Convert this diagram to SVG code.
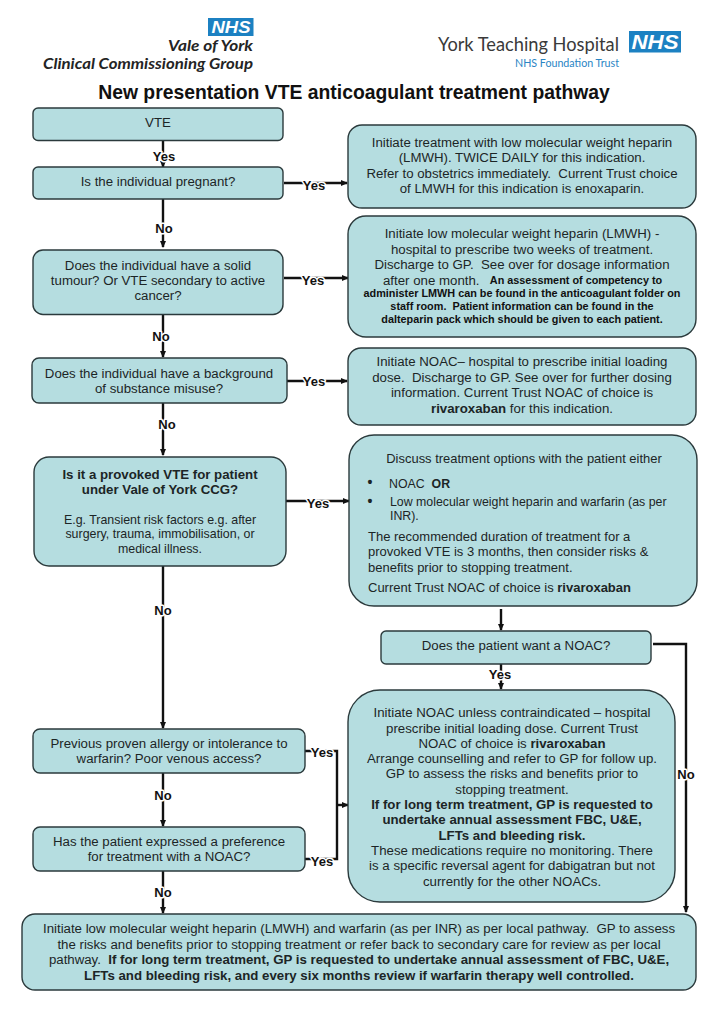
<svg xmlns="http://www.w3.org/2000/svg" width="720" height="1019" viewBox="0 0 720 1019">
<style>
text{font-family:"Liberation Sans",Arial,sans-serif;fill:#1c2526;text-anchor:middle;font-size:13.25px;white-space:pre}
.n{fill:#b5dde0;stroke:#2b3a3c;stroke-width:1.4}
.b{font-weight:bold}
.f{font-size:10.85px;font-weight:bold;fill:#111}
.c{fill:none;stroke:#111;stroke-width:2.4}
.l{font-size:13px;font-weight:bold;fill:#111;paint-order:stroke;stroke:#fff;stroke-width:3px;stroke-linejoin:round}
.logo{font-family:Lato,"Liberation Sans",sans-serif;fill:#242424;font-weight:bold;font-style:italic;text-anchor:start;font-size:15px}
.york{font-family:Lato,"Liberation Sans",sans-serif;text-anchor:start}
.blue{fill:#1c81c2}
.w{fill:#fff;font-weight:bold;font-style:italic}
.st{text-anchor:start}
</style>
<defs><marker id="a" markerWidth="7" markerHeight="6" refX="6" refY="3" orient="auto" markerUnits="userSpaceOnUse" viewBox="0 0 7 6"><path d="M0 0L7 3L0 6z" fill="#111"/></marker></defs>
<g id="logo-ccg">
<rect class="blue" x="208" y="18" width="45.500" height="18"/>
<text class="w" x="231" y="33" style="font-size:16px" textLength="39" lengthAdjust="spacingAndGlyphs">NHS</text>
<text class="logo" x="168" y="51" style="font-size:16px" textLength="85" lengthAdjust="spacingAndGlyphs">Vale of York</text>
<text class="logo" x="43" y="69" style="font-size:16px" textLength="210" lengthAdjust="spacingAndGlyphs">Clinical Commissioning Group</text>
</g>
<g id="logo-york">
<rect class="blue" x="629" y="31" width="52" height="21.500"/>
<text class="w" x="655" y="49" style="font-size:20px" textLength="47" lengthAdjust="spacingAndGlyphs">NHS</text>
<text class="york" x="438" y="51" style="font-size:19.500px;fill:#3a3a3a" textLength="181" lengthAdjust="spacingAndGlyphs">York Teaching Hospital</text>
<text class="york" x="515" y="67" style="font-size:11px;fill:#2a85c4" textLength="104" lengthAdjust="spacingAndGlyphs">NHS Foundation Trust</text>
</g>
<text id="title" x="354" y="99" style="font-size:19.350px;fill:#111" class="b">New presentation VTE anticoagulant treatment pathway</text>
<g id="connectors">
<path class="c" d="M163 140V167" marker-end="url(#a)"/>
<path class="c" d="M163 199V247" marker-end="url(#a)"/>
<path class="c" d="M163 315V357" marker-end="url(#a)"/>
<path class="c" d="M163 403V455" marker-end="url(#a)"/>
<path class="c" d="M163 566V728" marker-end="url(#a)"/>
<path class="c" d="M163 773V826" marker-end="url(#a)"/>
<path class="c" d="M163 871V913" marker-end="url(#a)"/>
<path class="c" d="M284 183H347" marker-end="url(#a)"/>
<path class="c" d="M284 278H348" marker-end="url(#a)"/>
<path class="c" d="M287 381H347" marker-end="url(#a)"/>
<path class="c" d="M286 501H349" marker-end="url(#a)"/>
<path class="c" d="M501 609V630" marker-end="url(#a)"/>
<path class="c" d="M501 664V689" marker-end="url(#a)"/>
<path class="c" d="M653 644H686V912" marker-end="url(#a)"/>
<path class="c" d="M305 751H337V859H305"/>
<path class="c" d="M337 805H348" marker-end="url(#a)"/>
</g>
<g id="n-vte"><rect class="n" x="33" y="108" width="250" height="32.500" rx="5"/><text x="158" y="127">VTE</text></g>
<g id="n-pregnant"><rect class="n" x="33" y="167" width="250" height="32" rx="5"/><text x="158" y="186">Is the individual pregnant?</text></g>
<g id="n-tumour"><rect class="n" x="33" y="250" width="250" height="64.500" rx="10"/><text><tspan x="158" y="270">Does the individual have a solid</tspan><tspan x="158" y="285">tumour? Or VTE secondary to active</tspan><tspan x="158" y="300">cancer?</tspan></text></g>
<g id="n-substance"><rect class="n" x="32" y="358" width="255" height="45" rx="7"/><text><tspan x="159" y="378">Does the individual have a background</tspan><tspan x="159" y="393">of substance misuse?</tspan></text></g>
<g id="n-provoked"><rect class="n" x="34" y="457" width="252" height="109" rx="15"/><text class="b"><tspan x="160" y="479">Is it a provoked VTE for patient</tspan><tspan x="160" y="494">under Vale of York CCG?</tspan></text><text style="font-size:12.400px"><tspan x="160" y="524">E.g. Transient risk factors e.g. after</tspan><tspan x="160" y="538">surgery, trauma, immobilisation, or</tspan><tspan x="160" y="553">medical illness.</tspan></text></g>
<g id="n-allergy"><rect class="n" x="33" y="729" width="272" height="44" rx="7"/><text><tspan x="169" y="748">Previous proven allergy or intolerance to</tspan><tspan x="169" y="763">warfarin? Poor venous access?</tspan></text></g>
<g id="n-preference"><rect class="n" x="33" y="827" width="272" height="44" rx="7"/><text><tspan x="169" y="846">Has the patient expressed a preference</tspan><tspan x="169" y="861">for treatment with a NOAC?</tspan></text></g>
<g id="n-obstetrics"><rect class="n" x="348" y="125" width="348" height="83" rx="14"/><text><tspan x="522" y="147">Initiate treatment with low molecular weight heparin</tspan><tspan x="522" y="162">(LMWH). TWICE DAILY for this indication.</tspan><tspan x="522" y="178">Refer to obstetrics immediately.  Current Trust choice</tspan><tspan x="522" y="193">of LMWH for this indication is enoxaparin.</tspan></text></g>
<g id="n-lmwh"><rect class="n" x="348" y="216" width="348" height="121" rx="18"/><text><tspan x="522" y="238">Initiate low molecular weight heparin (LMWH) -</tspan><tspan x="522" y="254">hospital to prescribe two weeks of treatment.</tspan><tspan x="522" y="269">Discharge to GP.  See over for dosage information</tspan></text><text class="st" x="383" y="284.500">after one month.</text><text class="f" x="576" y="284">An assessment of competency to</text><text class="f"><tspan x="522" y="297">administer LMWH can be found in the anticoagulant folder on</tspan><tspan x="522" y="310">staff room.  Patient information can be found in the</tspan><tspan x="522" y="323">dalteparin pack which should be given to each patient.</tspan></text></g>
<g id="n-noac1"><rect class="n" x="348" y="348" width="348" height="77" rx="13"/><text><tspan x="522" y="366">Initiate NOAC– hospital to prescribe initial loading</tspan><tspan x="522" y="382">dose.  Discharge to GP. See over for further dosing</tspan><tspan x="522" y="397">information. Current Trust NOAC of choice is</tspan><tspan x="522" y="413"><tspan class="b">rivaroxaban</tspan> for this indication.</tspan></text></g>
<g id="n-discuss"><rect class="n" x="349" y="435" width="348" height="171" rx="25"/><text x="524" y="463" style="font-size:12.950px">Discuss treatment options with the patient either</text><text x="370" y="487" class="b" style="font-size:14px">•</text><text x="370" y="506" class="b" style="font-size:14px">•</text><text class="st" style="font-size:12.350px"><tspan x="389" y="488">NOAC  <tspan class="b">OR</tspan></tspan><tspan x="390" y="506">Low molecular weight heparin and warfarin (as per</tspan><tspan x="390" y="520">INR).</tspan></text><text class="st" style="font-size:13px"><tspan x="368" y="541">The recommended duration of treatment for a</tspan><tspan x="368" y="556">provoked VTE is 3 months, then consider risks &amp;</tspan><tspan x="368" y="572">benefits prior to stopping treatment.</tspan><tspan x="368" y="592">Current Trust NOAC of choice is <tspan class="b">rivaroxaban</tspan></tspan></text></g>
<g id="n-want"><rect class="n" x="381" y="631" width="270" height="33" rx="5"/><text x="516" y="650">Does the patient want a NOAC?</text></g>
<g id="n-noac2"><rect class="n" x="348" y="690" width="327" height="212" rx="32"/><text><tspan x="512" y="717">Initiate NOAC unless contraindicated – hospital</tspan><tspan x="512" y="733">prescribe initial loading dose. Current Trust</tspan><tspan x="512" y="748">NOAC of choice is <tspan class="b">rivaroxaban</tspan></tspan><tspan x="512" y="763">Arrange counselling and refer to GP for follow up.</tspan><tspan x="512" y="778">GP to assess the risks and benefits prior to</tspan><tspan x="512" y="794">stopping treatment.</tspan><tspan x="512" y="809" class="b">If for long term treatment, GP is requested to</tspan><tspan x="512" y="824" class="b">undertake annual assessment FBC, U&amp;E,</tspan><tspan x="512" y="840" class="b">LFTs and bleeding risk.</tspan><tspan x="512" y="855">These medications require no monitoring. There</tspan><tspan x="512" y="870">is a specific reversal agent for dabigatran but not</tspan><tspan x="512" y="886">currently for the other NOACs.</tspan></text></g>
<g id="n-warfarin"><rect class="n" x="22" y="914" width="674" height="76" rx="13"/><text><tspan x="359" y="933">Initiate low molecular weight heparin (LMWH) and warfarin (as per INR) as per local pathway.  GP to assess</tspan><tspan x="359" y="949">the risks and benefits prior to stopping treatment or refer back to secondary care for review as per local</tspan><tspan x="359" y="964">pathway.  <tspan class="b">If for long term treatment, GP is requested to undertake annual assessment of FBC, U&amp;E,</tspan></tspan><tspan x="359" y="980" class="b">LFTs and bleeding risk, and every six months review if warfarin therapy well controlled.</tspan></text></g>
<g id="labels">
<text class="l" x="164" y="161">Yes</text>
<text class="l" x="314" y="190">Yes</text>
<text class="l" x="164" y="233">No</text>
<text class="l" x="313" y="285">Yes</text>
<text class="l" x="161" y="341">No</text>
<text class="l" x="314" y="386">Yes</text>
<text class="l" x="167" y="429">No</text>
<text class="l" x="318" y="508">Yes</text>
<text class="l" x="163" y="615">No</text>
<text class="l" x="500" y="679">Yes</text>
<text class="l" x="322" y="757">Yes</text>
<text class="l" x="686" y="779">No</text>
<text class="l" x="163" y="800">No</text>
<text class="l" x="322" y="866">Yes</text>
<text class="l" x="163" y="897">No</text>
</g>
</svg>
